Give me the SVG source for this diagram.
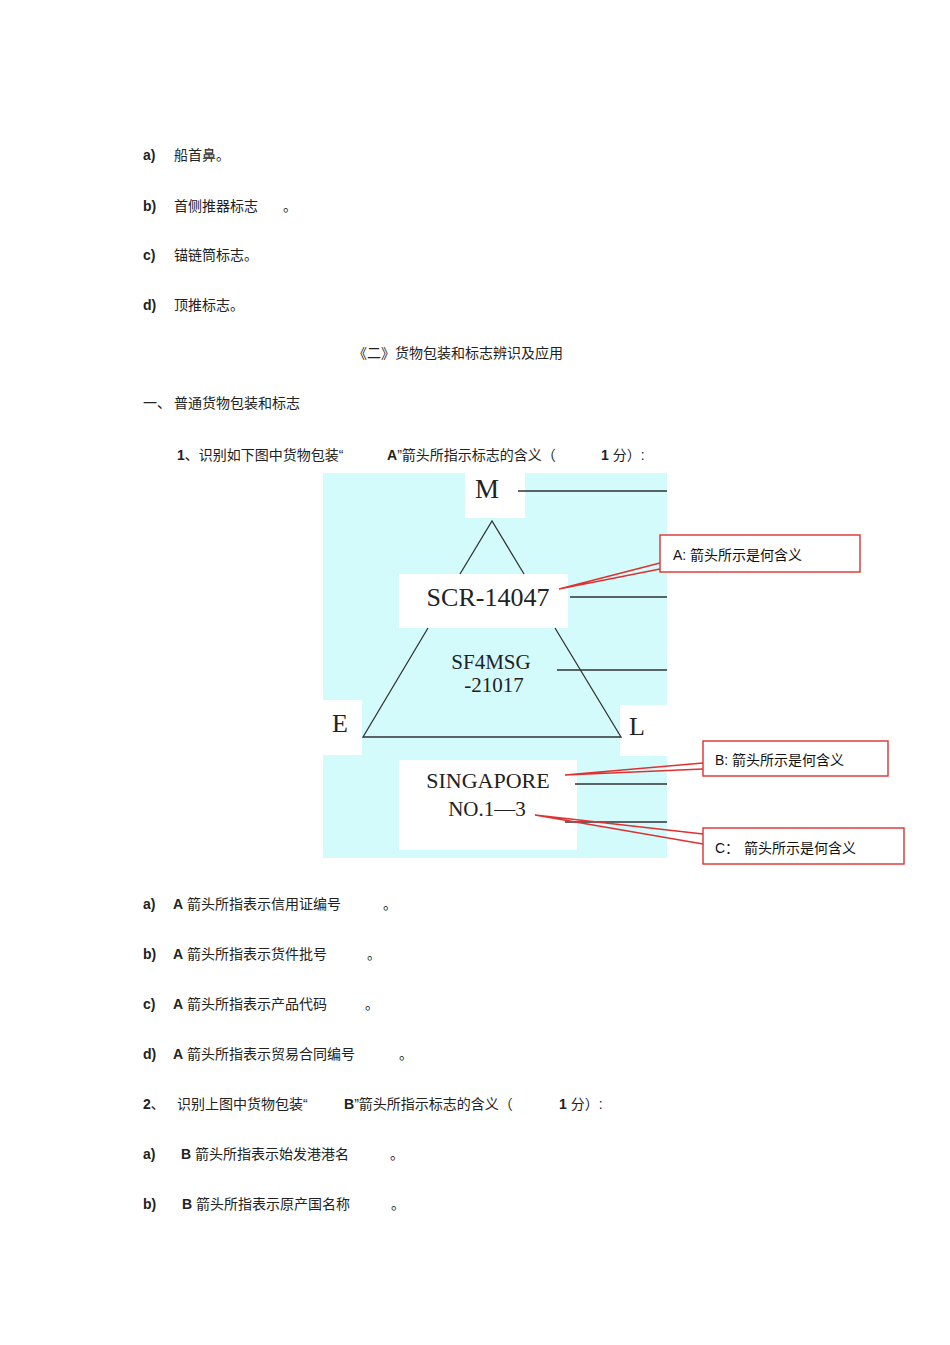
<svg xmlns="http://www.w3.org/2000/svg" width="950" height="1345" viewBox="0 0 950 1345">
<style>
.t{font-family:"Liberation Sans","Noto Sans CJK SC",sans-serif;font-size:14px;fill:#222}
.b{font-weight:bold}
.s{font-family:"Liberation Serif",serif;fill:#222}
.k{stroke:#333;stroke-width:1.3;fill:none}
.r{stroke:#e03030;stroke-width:1.4;fill:#fff}
.rl{stroke:#e03030;stroke-width:1.4;fill:none}
.c{font-family:"Liberation Sans","Noto Sans CJK SC",sans-serif;font-size:14px;fill:#111}
</style>
<rect width="950" height="1345" fill="#fff"/>
<g id="text">
<text class="t" x="143" y="160"><tspan class="b">a)</tspan><tspan x="174">船首鼻。</tspan></text>
<text class="t" x="143" y="211"><tspan class="b">b)</tspan><tspan x="174">首侧推器标志</tspan><tspan x="283">。</tspan></text>
<text class="t" x="143" y="260"><tspan class="b">c)</tspan><tspan x="174">锚链筒标志。</tspan></text>
<text class="t" x="143" y="310"><tspan class="b">d)</tspan><tspan x="174">顶推标志。</tspan></text>
<text class="t" x="353" y="358">《二》货物包装和标志辨识及应用</text>
<text class="t" x="143" y="408">一、<tspan x="174">普通货物包装和标志</tspan></text>
<text class="t" x="177" y="460"><tspan class="b">1</tspan>、识别如下图中货物包装“<tspan class="b" x="387">A</tspan>”箭头所指示标志的含义（<tspan class="b" x="601">1</tspan> 分）:</text>
<text class="t" x="143" y="909"><tspan class="b">a)</tspan><tspan class="b" x="173">A</tspan> 箭头所指表示信用证编号<tspan x="383">。</tspan></text>
<text class="t" x="143" y="959"><tspan class="b">b)</tspan><tspan class="b" x="173">A</tspan> 箭头所指表示货件批号<tspan x="367">。</tspan></text>
<text class="t" x="143" y="1009"><tspan class="b">c)</tspan><tspan class="b" x="173">A</tspan> 箭头所指表示产品代码<tspan x="365">。</tspan></text>
<text class="t" x="143" y="1059"><tspan class="b">d)</tspan><tspan class="b" x="173">A</tspan> 箭头所指表示贸易合同编号<tspan x="399">。</tspan></text>
<text class="t" x="143" y="1109"><tspan class="b">2</tspan>、<tspan x="177">识别上图中货物包装“</tspan><tspan class="b" x="344">B</tspan>”箭头所指示标志的含义（<tspan class="b" x="559">1</tspan> 分）:</text>
<text class="t" x="143" y="1159"><tspan class="b">a)</tspan><tspan class="b" x="181">B</tspan> 箭头所指表示始发港港名<tspan x="390">。</tspan></text>
<text class="t" x="143" y="1209"><tspan class="b">b)</tspan><tspan class="b" x="182">B</tspan> 箭头所指表示原产国名称<tspan x="391">。</tspan></text>
</g>
<g id="figure">
<rect x="323" y="473" width="344" height="385" fill="#d4fbfc"/>
<rect x="465" y="473" width="60" height="45" fill="#fff"/>
<rect x="399" y="574" width="169" height="54" fill="#fff"/>
<rect x="323" y="700" width="39" height="55" fill="#fff"/>
<rect x="620" y="705" width="47" height="51" fill="#fff"/>
<rect x="399" y="760" width="178" height="90" fill="#fff"/>
<path class="k" d="M460 574 L492 521 L524 574 M428 628 L363 737 L621 737 L555 628"/>
<text class="s" x="487" y="498" font-size="27" text-anchor="middle">M</text>
<text class="s" x="488" y="606" font-size="26" text-anchor="middle">SCR-14047</text>
<text class="s" x="491" y="669" font-size="21" text-anchor="middle">SF4MSG</text>
<text class="s" x="494" y="692" font-size="21" text-anchor="middle">-21017</text>
<text class="s" x="340" y="732" font-size="26" text-anchor="middle">E</text>
<text class="s" x="637" y="735" font-size="26" text-anchor="middle">L</text>
<text class="s" x="488" y="788" font-size="22" text-anchor="middle">SINGAPORE</text>
<text class="s" x="487" y="816" font-size="21" text-anchor="middle">NO.1—3</text>
</g>
<g id="connectors">
<path class="k" d="M518 491 H667 M570 597 H667 M557 670 H667 M575 784 H667 M565 822 H667"/>
<path class="rl" d="M559 589 L660 563 M559 589 L660 569"/>
<path class="rl" d="M565 775 L703 763 M565 775 L703 769"/>
<path class="rl" d="M535 815 L703 834 M535 815 L703 844"/>
</g>
<g id="calloutA"><rect class="r" x="660" y="535" width="200" height="37"/><text class="c" x="673" y="560">A: 箭头所示是何含义</text></g>
<g id="calloutB"><rect class="r" x="703" y="741" width="185" height="35"/><text class="c" x="715" y="765">B: 箭头所示是何含义</text></g>
<g id="calloutC"><rect class="r" x="703" y="828" width="201" height="36"/><text class="c" x="715" y="853">C：<tspan x="744">箭头所示是何含义</tspan></text></g>
</svg>
